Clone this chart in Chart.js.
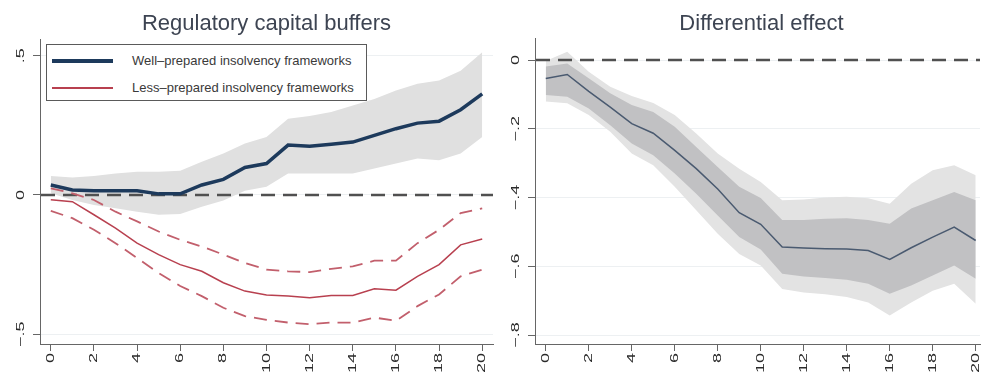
<!DOCTYPE html>
<html>
<head>
<meta charset="utf-8">
<script src="https://cdn.jsdelivr.net/npm/chart.js@4"></script>
<style>
  html, body { margin: 0; padding: 0; background: #fff; }
  body { width: 986px; height: 374px; position: relative; overflow: hidden;
         font-family: "Liberation Sans", Arial, sans-serif; }
  canvas { position: absolute; top: 0; }
  #legend { position: absolute; left: 46px; top: 44px; width: 321px; height: 57px;
            box-sizing: border-box; border: 1px solid #5a5a5a; background: #fff; }
  #legend .sw { position: absolute; left: 5px; width: 61px; }
  #legend .lab { position: absolute; left: 85px; font-size: 13px; line-height: 20px;
                 color: #3a3a3a; white-space: nowrap; }
</style>
</head>
<body>
<canvas id="left" width="495" height="374" style="left:0"></canvas>
<canvas id="right" width="496" height="374" style="left:490px"></canvas>
<div id="legend">
  <div class="sw" style="top:14px;height:4px;background:#1d3a5c"></div>
  <div class="lab" style="top:6px">Well–prepared insolvency frameworks</div>
  <div class="sw" style="top:42px;height:2px;background:#b8404f"></div>
  <div class="lab" style="top:33px">Less–prepared insolvency frameworks</div>
</div>
<script>
// Horizons (quarters after the shock)
const horizons = [0,1,2,3,4,5,6,7,8,9,10,11,12,13,14,15,16,17,18,19,20];
const xTickValues = [0,2,4,6,8,10,12,14,16,18,20];

// Left panel: regulatory capital buffers
const leftTitle = 'Regulatory capital buffers';
const wellMean  = [0.036,0.018,0.015,0.015,0.015,0.004,0.004,0.036,0.056,0.099,0.113,0.179,0.175,0.182,0.190,0.214,0.238,0.258,0.265,0.306,0.363];
const wellUpper = [0.068,0.063,0.068,0.077,0.083,0.083,0.087,0.119,0.149,0.185,0.208,0.274,0.284,0.298,0.321,0.345,0.375,0.399,0.411,0.446,0.512];
const wellLower = [0.006,-0.018,-0.036,-0.048,-0.060,-0.071,-0.068,-0.042,-0.020,0.015,0.030,0.077,0.077,0.077,0.077,0.095,0.113,0.131,0.125,0.149,0.208];
const lessMean  = [-0.017,-0.024,-0.071,-0.119,-0.173,-0.214,-0.250,-0.274,-0.315,-0.345,-0.359,-0.363,-0.369,-0.361,-0.361,-0.337,-0.342,-0.292,-0.250,-0.179,-0.158];
const lessUpper = [0.024,0.006,-0.018,-0.060,-0.095,-0.131,-0.161,-0.185,-0.214,-0.244,-0.268,-0.274,-0.277,-0.265,-0.256,-0.236,-0.236,-0.173,-0.125,-0.065,-0.048];
const lessLower = [-0.057,-0.083,-0.125,-0.173,-0.226,-0.280,-0.327,-0.363,-0.405,-0.435,-0.448,-0.458,-0.464,-0.458,-0.458,-0.440,-0.452,-0.399,-0.357,-0.292,-0.268];
const leftYTicks  = [0.5, 0, -0.5];
const leftYLabels = ['.5', '0', '−.5'];

// Right panel: differential effect with two confidence bands
const rightTitle = 'Differential effect';
const diffMean       = [-0.054,-0.042,-0.091,-0.137,-0.185,-0.213,-0.263,-0.316,-0.375,-0.444,-0.478,-0.544,-0.547,-0.549,-0.550,-0.554,-0.580,-0.546,-0.515,-0.486,-0.525];
const diffInnerUpper = [-0.019,-0.010,-0.053,-0.097,-0.131,-0.151,-0.194,-0.253,-0.311,-0.369,-0.401,-0.465,-0.465,-0.462,-0.460,-0.465,-0.476,-0.432,-0.408,-0.384,-0.408];
const diffInnerLower = [-0.102,-0.107,-0.141,-0.190,-0.243,-0.277,-0.330,-0.389,-0.452,-0.515,-0.551,-0.622,-0.630,-0.634,-0.639,-0.651,-0.680,-0.656,-0.627,-0.598,-0.636];
const diffOuterUpper = [-0.003,0.024,-0.034,-0.078,-0.105,-0.125,-0.160,-0.214,-0.272,-0.316,-0.355,-0.408,-0.406,-0.400,-0.398,-0.402,-0.418,-0.360,-0.321,-0.306,-0.335];
const diffOuterLower = [-0.121,-0.126,-0.160,-0.209,-0.272,-0.306,-0.369,-0.437,-0.505,-0.564,-0.598,-0.666,-0.676,-0.681,-0.689,-0.705,-0.743,-0.705,-0.671,-0.651,-0.709];
const rightYTicks  = [0, -0.2, -0.4, -0.6, -0.8];
const rightYLabels = ['0', '−.2', '−.4', '−.6', '−.8'];

const refLineValue = 0;

const pts = arr => horizons.map((h, i) => ({ x: h, y: arr[i] }));
const FONT = '"Liberation Sans", Arial, sans-serif';

// Titles, rotated tick labels and the dashed reference line
const panelDecor = {
  id: 'panelDecor',
  afterDatasetDraw(chart, args, opts) {
    const ds = chart.data.datasets[args.index];
    if (!ds.refLineAfter) return;
    const { ctx, chartArea, scales } = chart;
    const y = scales.y.getPixelForValue(opts.refValue);
    ctx.save();
    ctx.strokeStyle = '#505050';
    ctx.lineWidth = 2.5;
    ctx.setLineDash([14, 8]);
    ctx.beginPath();
    ctx.moveTo(chartArea.left + 1, y);
    ctx.lineTo(chartArea.right, y);
    ctx.stroke();
    ctx.restore();
  },
  afterDraw(chart, args, opts) {
    const { ctx, chartArea, scales } = chart;
    ctx.save();
    // title
    ctx.fillStyle = '#3d4452';
    ctx.font = '22px ' + FONT;
    ctx.textAlign = 'center';
    ctx.textBaseline = 'alphabetic';
    ctx.fillText(opts.title, (chartArea.left + chartArea.right) / 2 + (opts.titleShift || 0), 30);
    // tick labels, rotated to read upward
    ctx.fillStyle = '#2a2a2a';
    ctx.font = '12px ' + FONT;
    scales.x.ticks.forEach(t => {
      const px = scales.x.getPixelForValue(t.value);
      ctx.save();
      ctx.translate(px, chartArea.bottom + 9);
      ctx.rotate(-Math.PI / 2);
      ctx.scale(1.5, 0.92);
      ctx.textAlign = 'right';
      ctx.textBaseline = 'middle';
      ctx.fillText(String(t.value), 0, 0);
      ctx.restore();
    });
    opts.yTicks.forEach((v, i) => {
      const py = scales.y.getPixelForValue(v);
      ctx.save();
      ctx.translate(chartArea.left - 19, py);
      ctx.rotate(-Math.PI / 2);
      ctx.scale(1.5, 0.92);
      ctx.textAlign = 'center';
      ctx.textBaseline = 'middle';
      ctx.fillText(opts.yLabels[i], 0, 0);
      ctx.restore();
    });
    ctx.restore();
  }
};

function band(upper, lower, color, order, refAfter) {
  return [
    { data: pts(upper), fill: '+1', backgroundColor: color, borderColor: 'rgba(0,0,0,0)',
      borderWidth: 0, pointRadius: 0, order, refLineAfter: !!refAfter },
    { data: pts(lower), fill: false, borderColor: 'rgba(0,0,0,0)',
      borderWidth: 0, pointRadius: 0, order }
  ];
}

function line(values, color, width, dash) {
  return { data: pts(values), fill: false, borderColor: color, borderWidth: width,
           borderDash: dash || [], pointRadius: 0, order: 1, tension: 0 };
}

function scalesFor(xMax, yMin, yMax, yTicks, axisWidth) {
  return {
    x: {
      type: 'linear', min: -0.5, max: xMax,
      afterBuildTicks: s => { s.ticks = xTickValues.map(v => ({ value: v })); },
      afterFit: s => { s.height = 30; },
      ticks: { display: false },
      grid: { display: true, drawOnChartArea: false, drawTicks: true, tickLength: 7,
              tickColor: '#666', tickWidth: 1 },
      border: { display: true, color: '#666', width: 1 }
    },
    y: {
      type: 'linear', min: yMin, max: yMax,
      afterBuildTicks: s => { s.ticks = yTicks.map(v => ({ value: v })); },
      afterFit: s => { s.width = axisWidth; },
      ticks: { display: false },
      grid: { display: true, color: '#edf0f2', lineWidth: 1, drawTicks: true, tickLength: 7,
              tickColor: '#666', tickWidth: 1 },
      border: { display: true, color: '#666', width: 1 }
    }
  };
}

new Chart(document.getElementById('left'), {
  type: 'line',
  data: {
    datasets: [
      ...band(wellUpper, wellLower, '#e0e0e0', 3, true),
      line(wellMean, '#1d3a5c', 3.5),
      line(lessMean, '#b8404f', 1.5),
      line(lessUpper, '#c25f6c', 1.8, [13, 8]),
      line(lessLower, '#c25f6c', 1.8, [13, 8])
    ]
  },
  options: {
    responsive: false, animation: false, events: [],
    layout: { padding: { top: 39, right: 2, left: 0, bottom: 0 } },
    scales: scalesFor(20.5, -0.535, 0.56, leftYTicks, 40),
    plugins: {
      legend: { display: false }, tooltip: { enabled: false },
      panelDecor: { title: leftTitle, yTicks: leftYTicks, yLabels: leftYLabels, refValue: refLineValue }
    }
  },
  plugins: [panelDecor]
});

new Chart(document.getElementById('right'), {
  type: 'line',
  data: {
    datasets: [
      ...band(diffInnerUpper, diffInnerLower, '#c1c1c3', 4, true),
      ...band(diffOuterUpper, diffOuterLower, '#e3e3e3', 5, false),
      line(diffMean, '#4a5a70', 1.5)
    ]
  },
  options: {
    responsive: false, animation: false, events: [],
    layout: { padding: { top: 38, right: 6, left: 0, bottom: 0 } },
    scales: scalesFor(20.2, -0.826, 0.064, rightYTicks, 45),
    plugins: {
      legend: { display: false }, tooltip: { enabled: false },
      panelDecor: { title: rightTitle, titleShift: 4, yTicks: rightYTicks, yLabels: rightYLabels, refValue: refLineValue }
    }
  },
  plugins: [panelDecor]
});
</script>
</body>
</html>
